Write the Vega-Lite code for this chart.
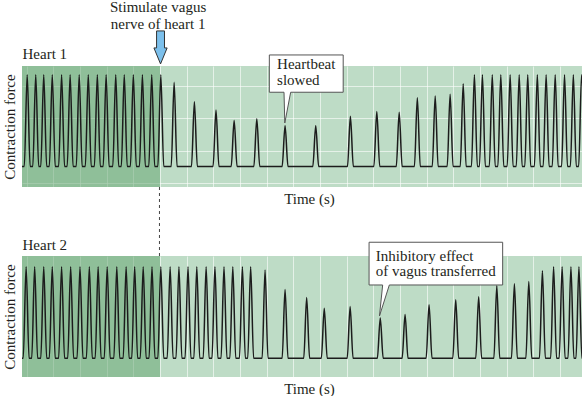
{
  "$schema": "https://vega.github.io/schema/vega-lite/v6.json",
  "padding": {"left": 2, "top": 0, "right": 0, "bottom": 0},
  "bounds": "flush",
  "spacing": 69,
  "config": {
    "view": {"fill": "#bedcc6", "stroke": null},
    "font": "Liberation Serif",
    "axis": {
      "labels": false, "ticks": false, "domain": false,
      "gridColor": "#ffffff", "gridOpacity": 0.6, "gridWidth": 1,
      "titleFont": "Liberation Serif", "titleFontSize": 15, "titleFontWeight": "normal", "titleColor": "#231f20",
      "minExtent": 0, "maxExtent": 0
    },
    "text": {"font": "Liberation Serif", "fontSize": 15, "fill": "#231f20", "baseline": "alphabetic"}
  },
  "datasets": {
    "heart1": [
      {"t":0.825,"f":0},
      {"t":0.91,"f":0},{"t":1.02,"f":5.74},{"t":1.13,"f":0},
      {"t":1.23,"f":0},{"t":1.34,"f":5.74},{"t":1.45,"f":0},
      {"t":1.53,"f":0},{"t":1.64,"f":5.74},{"t":1.75,"f":0},
      {"t":1.85,"f":0},{"t":1.96,"f":5.74},{"t":2.07,"f":0},
      {"t":2.20,"f":0},{"t":2.31,"f":5.74},{"t":2.42,"f":0},
      {"t":2.52,"f":0},{"t":2.63,"f":5.74},{"t":2.74,"f":0},
      {"t":2.86,"f":0},{"t":2.97,"f":5.74},{"t":3.08,"f":0},
      {"t":3.20,"f":0},{"t":3.31,"f":5.74},{"t":3.42,"f":0},
      {"t":3.54,"f":0},{"t":3.65,"f":5.74},{"t":3.76,"f":0},
      {"t":3.87,"f":0},{"t":3.98,"f":5.74},{"t":4.09,"f":0},
      {"t":4.23,"f":0},{"t":4.34,"f":5.74},{"t":4.45,"f":0},
      {"t":4.55,"f":0},{"t":4.66,"f":5.74},{"t":4.77,"f":0},
      {"t":4.89,"f":0},{"t":5.00,"f":5.74},{"t":5.11,"f":0},
      {"t":5.23,"f":0},{"t":5.34,"f":5.74},{"t":5.45,"f":0},
      {"t":5.58,"f":0},{"t":5.69,"f":5.74},{"t":5.80,"f":0},
      {"t":5.92,"f":0},{"t":6.03,"f":5.74},{"t":6.14,"f":0},
      {"t":6.42,"f":0},{"t":6.53,"f":5.26},{"t":6.64,"f":0},
      {"t":7.18,"f":0},{"t":7.29,"f":4.05},{"t":7.40,"f":0},
      {"t":7.99,"f":0},{"t":8.10,"f":3.53},{"t":8.21,"f":0},
      {"t":8.67,"f":0},{"t":8.78,"f":2.87},{"t":8.89,"f":0},
      {"t":9.52,"f":0},{"t":9.63,"f":2.99},{"t":9.74,"f":0},
      {"t":10.58,"f":0},{"t":10.69,"f":2.54},{"t":10.80,"f":0},
      {"t":11.73,"f":0},{"t":11.84,"f":2.54},{"t":11.95,"f":0},
      {"t":13.03,"f":0},{"t":13.14,"f":3.14},{"t":13.25,"f":0},
      {"t":14.02,"f":0},{"t":14.13,"f":3.43},{"t":14.24,"f":0},
      {"t":14.86,"f":0},{"t":14.97,"f":3.39},{"t":15.08,"f":0},
      {"t":15.54,"f":0},{"t":15.65,"f":4.29},{"t":15.76,"f":0},
      {"t":16.21,"f":0},{"t":16.32,"f":4.41},{"t":16.43,"f":0},
      {"t":16.77,"f":0},{"t":16.88,"f":4.52},{"t":16.99,"f":0},
      {"t":17.26,"f":0},{"t":17.37,"f":5.17},{"t":17.48,"f":0},
      {"t":17.68,"f":0},{"t":17.79,"f":5.74},{"t":17.90,"f":0},
      {"t":17.98,"f":0},{"t":18.09,"f":5.74},{"t":18.20,"f":0},
      {"t":18.35,"f":0},{"t":18.46,"f":5.74},{"t":18.57,"f":0},
      {"t":18.67,"f":0},{"t":18.78,"f":5.74},{"t":18.89,"f":0},
      {"t":19.02,"f":0},{"t":19.13,"f":5.74},{"t":19.24,"f":0},
      {"t":19.36,"f":0},{"t":19.47,"f":5.74},{"t":19.58,"f":0},
      {"t":19.68,"f":0},{"t":19.79,"f":5.74},{"t":19.90,"f":0},
      {"t":20.04,"f":0},{"t":20.15,"f":5.74},{"t":20.26,"f":0},
      {"t":20.37,"f":0},{"t":20.48,"f":5.74},{"t":20.59,"f":0},
      {"t":20.71,"f":0},{"t":20.82,"f":5.74},{"t":20.93,"f":0},
      {"t":21.06,"f":0},{"t":21.17,"f":5.74},{"t":21.28,"f":0},
      {"t":21.39,"f":0},{"t":21.50,"f":5.74},{"t":21.61,"f":0},
      {"t":21.70,"f":0},{"t":21.81,"f":5.74},{"t":21.92,"f":0}
    ],
    "heart2": [
      {"t":0.825,"f":0},
      {"t":0.87,"f":0},{"t":0.98,"f":5.72},{"t":1.09,"f":0},
      {"t":1.19,"f":0},{"t":1.30,"f":5.72},{"t":1.41,"f":0},
      {"t":1.53,"f":0},{"t":1.64,"f":5.72},{"t":1.75,"f":0},
      {"t":1.85,"f":0},{"t":1.96,"f":5.72},{"t":2.07,"f":0},
      {"t":2.20,"f":0},{"t":2.31,"f":5.72},{"t":2.42,"f":0},
      {"t":2.54,"f":0},{"t":2.65,"f":5.72},{"t":2.76,"f":0},
      {"t":2.89,"f":0},{"t":3.00,"f":5.72},{"t":3.11,"f":0},
      {"t":3.24,"f":0},{"t":3.35,"f":5.72},{"t":3.46,"f":0},
      {"t":3.57,"f":0},{"t":3.68,"f":5.72},{"t":3.79,"f":0},
      {"t":3.91,"f":0},{"t":4.02,"f":5.72},{"t":4.13,"f":0},
      {"t":4.27,"f":0},{"t":4.38,"f":5.72},{"t":4.49,"f":0},
      {"t":4.62,"f":0},{"t":4.73,"f":5.72},{"t":4.84,"f":0},
      {"t":4.94,"f":0},{"t":5.05,"f":5.72},{"t":5.16,"f":0},
      {"t":5.26,"f":0},{"t":5.37,"f":5.72},{"t":5.48,"f":0},
      {"t":5.59,"f":0},{"t":5.70,"f":5.72},{"t":5.81,"f":0},
      {"t":5.92,"f":0},{"t":6.03,"f":5.72},{"t":6.14,"f":0},
      {"t":6.27,"f":0},{"t":6.38,"f":5.72},{"t":6.49,"f":0},
      {"t":6.60,"f":0},{"t":6.71,"f":5.72},{"t":6.82,"f":0},
      {"t":6.94,"f":0},{"t":7.05,"f":5.72},{"t":7.16,"f":0},
      {"t":7.27,"f":0},{"t":7.38,"f":5.72},{"t":7.49,"f":0},
      {"t":7.62,"f":0},{"t":7.73,"f":5.72},{"t":7.84,"f":0},
      {"t":7.95,"f":0},{"t":8.06,"f":5.72},{"t":8.17,"f":0},
      {"t":8.29,"f":0},{"t":8.40,"f":5.72},{"t":8.51,"f":0},
      {"t":8.62,"f":0},{"t":8.73,"f":5.72},{"t":8.84,"f":0},
      {"t":8.98,"f":0},{"t":9.09,"f":5.72},{"t":9.20,"f":0},
      {"t":9.29,"f":0},{"t":9.40,"f":5.72},{"t":9.51,"f":0},
      {"t":9.83,"f":0},{"t":9.94,"f":5.52},{"t":10.05,"f":0},
      {"t":10.58,"f":0},{"t":10.69,"f":4.29},{"t":10.80,"f":0},
      {"t":11.39,"f":0},{"t":11.50,"f":3.79},{"t":11.61,"f":0},
      {"t":12.05,"f":0},{"t":12.16,"f":3.12},{"t":12.27,"f":0},
      {"t":13.02,"f":0},{"t":13.13,"f":3.23},{"t":13.24,"f":0},
      {"t":14.15,"f":0},{"t":14.26,"f":2.52},{"t":14.37,"f":0},
      {"t":15.08,"f":0},{"t":15.19,"f":2.73},{"t":15.30,"f":0},
      {"t":15.98,"f":0},{"t":16.09,"f":3.35},{"t":16.20,"f":0},
      {"t":16.98,"f":0},{"t":17.09,"f":3.65},{"t":17.20,"f":0},
      {"t":17.84,"f":0},{"t":17.95,"f":3.84},{"t":18.06,"f":0},
      {"t":18.52,"f":0},{"t":18.63,"f":4.53},{"t":18.74,"f":0},
      {"t":19.18,"f":0},{"t":19.29,"f":4.65},{"t":19.40,"f":0},
      {"t":19.72,"f":0},{"t":19.83,"f":4.79},{"t":19.94,"f":0},
      {"t":20.23,"f":0},{"t":20.34,"f":5.47},{"t":20.45,"f":0},
      {"t":20.65,"f":0},{"t":20.76,"f":5.72},{"t":20.87,"f":0},
      {"t":20.97,"f":0},{"t":21.08,"f":5.72},{"t":21.19,"f":0},
      {"t":21.30,"f":0},{"t":21.41,"f":5.72},{"t":21.52,"f":0},
      {"t":21.60,"f":0},{"t":21.71,"f":5.72},{"t":21.82,"f":0},
      {"t":21.83,"f":0}
    ]
  },
  "vconcat": [
    {
      "width": 560,
      "height": 121,
      "encoding": {
        "x": {"field": "t", "type": "quantitative", "scale": {"domain": [0.825, 21.825], "nice": false, "zero": false},
              "axis": {"values": [1,2,3,4,5,6,7,8,9,10,11,12,13,14,15,16,17,18,19,20,21], "grid": true, "title": "Time (s)", "titleX": 287, "titlePadding": 4}}
      },
      "layer": [
        {
          "data": {"values": [{"t": 0.825, "t2": 6.0}]},
          "mark": {"type": "rect", "color": "#60a26c", "opacity": 0.5},
          "encoding": {"x2": {"field": "t2"}}
        },
        {
          "data": {"name": "heart1"},
          "mark": {"type": "line", "clip": true, "color": "#1c1c1c", "strokeWidth": 1.5, "strokeJoin": "round", "interpolate": "monotone"},
          "encoding": {
            "y": {"field": "f", "type": "quantitative", "title": "Contraction force", "scale": {"domain": [-1.28, 6.28], "nice": false, "zero": false},
                  "axis": {"values": [-1,0,1,2,3,4,5,6], "grid": true, "titlePadding": 5}}
          }
        },
        {
          "data": {"values": [{"t": 5.98, "f": -1.28, "f2": -5.6}]},
          "mark": {"type": "rule", "color": "#444444", "strokeWidth": 1, "strokeDash": [3, 3]},
          "encoding": {
            "y": {"field": "f", "type": "quantitative", "title": "Contraction force", "scale": {"domain": [-1.28, 6.28], "nice": false, "zero": false}},
            "y2": {"field": "f2"}
          }
        },
        {
          "data": {"values": [{"t": 6.02, "f": 7.44}]},
          "mark": {"type": "point", "filled": true, "fill": "#7cc0ec", "stroke": "#333333", "strokeWidth": 1, "opacity": 1, "size": 1089,
                   "shape": "M-0.24,-1L0.24,-1L0.24,0.03L0.4,0.03L0,1L-0.4,0.03L-0.24,0.03Z"},
          "encoding": {
            "y": {"field": "f", "type": "quantitative", "title": "Contraction force", "scale": {"domain": [-1.28, 6.28], "nice": false, "zero": false}}
          }
        },
        {
          "data": {"values": [{"t": 5.93, "f": 9.65, "label": "Stimulate vagus"}, {"t": 5.93, "f": 8.57, "label": "nerve of heart 1"}]},
          "mark": {"type": "text", "align": "center"},
          "encoding": {
            "y": {"field": "f", "type": "quantitative", "title": "Contraction force", "scale": {"domain": [-1.28, 6.28], "nice": false, "zero": false}},
            "text": {"field": "label"}
          }
        },
        {
          "data": {"values": [{"t": 0.845, "f": 6.69, "label": "Heart 1"}]},
          "mark": {"type": "text", "align": "left"},
          "encoding": {
            "y": {"field": "f", "type": "quantitative", "title": "Contraction force", "scale": {"domain": [-1.28, 6.28], "nice": false, "zero": false}},
            "text": {"field": "label"}
          }
        },
        {
          "data": {"values": [{"t": 10.10, "t2": 12.87, "f": 6.97, "f2": 4.64}]},
          "mark": {"type": "rect", "fill": "#ffffff", "stroke": "#555555", "strokeWidth": 1},
          "encoding": {
            "x2": {"field": "t2"},
            "y": {"field": "f", "type": "quantitative", "title": "Contraction force", "scale": {"domain": [-1.28, 6.28], "nice": false, "zero": false}},
            "y2": {"field": "f2"}
          }
        },
        {
          "data": {"values": [{"t": 10.65, "f": 4.72, "f2": 4.64}, {"t": 10.68, "f": 4.72, "f2": 2.72}, {"t": 10.90, "f": 4.72, "f2": 4.64}]},
          "mark": {"type": "area", "orient": "vertical", "fill": "#ffffff", "opacity": 1},
          "encoding": {
            "y": {"field": "f", "type": "quantitative", "title": "Contraction force", "scale": {"domain": [-1.28, 6.28], "nice": false, "zero": false}},
            "y2": {"field": "f2"}
          }
        },
        {
          "data": {"values": [{"t": 10.65, "f": 4.64, "o": 1}, {"t": 10.68, "f": 2.72, "o": 2}, {"t": 10.90, "f": 4.64, "o": 3}]},
          "mark": {"type": "line", "color": "#555555", "strokeWidth": 1},
          "encoding": {
            "y": {"field": "f", "type": "quantitative", "title": "Contraction force", "scale": {"domain": [-1.28, 6.28], "nice": false, "zero": false}},
            "order": {"field": "o"}
          }
        },
        {
          "data": {"values": [{"t": 10.39, "f": 6.07, "label": "Heartbeat"}, {"t": 10.39, "f": 5.09, "label": "slowed"}]},
          "mark": {"type": "text", "align": "left"},
          "encoding": {
            "y": {"field": "f", "type": "quantitative", "title": "Contraction force", "scale": {"domain": [-1.28, 6.28], "nice": false, "zero": false}},
            "text": {"field": "label"}
          }
        }
      ]
    },
    {
      "width": 560,
      "height": 121,
      "encoding": {
        "x": {"field": "t", "type": "quantitative", "scale": {"domain": [0.825, 21.825], "nice": false, "zero": false},
              "axis": {"values": [1,2,3,4,5,6,7,8,9,10,11,12,13,14,15,16,17,18,19,20,21], "grid": true, "title": "Time (s)", "titleX": 287, "titlePadding": 4}}
      },
      "layer": [
        {
          "data": {"values": [{"t": 0.825, "t2": 6.0}]},
          "mark": {"type": "rect", "color": "#60a26c", "opacity": 0.5},
          "encoding": {"x2": {"field": "t2"}}
        },
        {
          "data": {"name": "heart2"},
          "mark": {"type": "line", "clip": true, "color": "#1c1c1c", "strokeWidth": 1.5, "strokeJoin": "round", "interpolate": "monotone"},
          "encoding": {
            "y": {"field": "f", "type": "quantitative", "title": "Contraction force", "scale": {"domain": [-1.17, 6.39], "nice": false, "zero": false},
                  "axis": {"grid": false, "titlePadding": 5}}
          }
        },
        {
          "data": {"values": [{"t": 0.845, "f": 6.765, "label": "Heart 2"}]},
          "mark": {"type": "text", "align": "left"},
          "encoding": {
            "y": {"field": "f", "type": "quantitative", "title": "Contraction force", "scale": {"domain": [-1.17, 6.39], "nice": false, "zero": false}},
            "text": {"field": "label"}
          }
        },
        {
          "data": {"values": [{"t": 13.84, "t2": 18.85, "f": 7.25, "f2": 4.58}]},
          "mark": {"type": "rect", "fill": "#ffffff", "stroke": "#555555", "strokeWidth": 1},
          "encoding": {
            "x2": {"field": "t2"},
            "y": {"field": "f", "type": "quantitative", "title": "Contraction force", "scale": {"domain": [-1.17, 6.39], "nice": false, "zero": false}},
            "y2": {"field": "f2"}
          }
        },
        {
          "data": {"values": [{"t": 14.23, "f": 2.64, "f2": 2.64}, {"t": 14.35, "f": 4.66, "f2": 3.27}, {"t": 14.60, "f": 4.66, "f2": 4.58}]},
          "mark": {"type": "area", "orient": "vertical", "fill": "#ffffff", "opacity": 1},
          "encoding": {
            "y": {"field": "f", "type": "quantitative", "title": "Contraction force", "scale": {"domain": [-1.17, 6.39], "nice": false, "zero": false}},
            "y2": {"field": "f2"}
          }
        },
        {
          "data": {"values": [{"t": 14.35, "f": 4.58, "o": 1}, {"t": 14.23, "f": 2.64, "o": 2}, {"t": 14.60, "f": 4.58, "o": 3}]},
          "mark": {"type": "line", "color": "#555555", "strokeWidth": 1},
          "encoding": {
            "y": {"field": "f", "type": "quantitative", "title": "Contraction force", "scale": {"domain": [-1.17, 6.39], "nice": false, "zero": false}},
            "order": {"field": "o"}
          }
        },
        {
          "data": {"values": [{"t": 14.09, "f": 6.08, "label": "Inhibitory effect"}, {"t": 14.09, "f": 5.14, "label": "of vagus transferred"}]},
          "mark": {"type": "text", "align": "left"},
          "encoding": {
            "y": {"field": "f", "type": "quantitative", "title": "Contraction force", "scale": {"domain": [-1.17, 6.39], "nice": false, "zero": false}},
            "text": {"field": "label"}
          }
        }
      ]
    }
  ]
}
